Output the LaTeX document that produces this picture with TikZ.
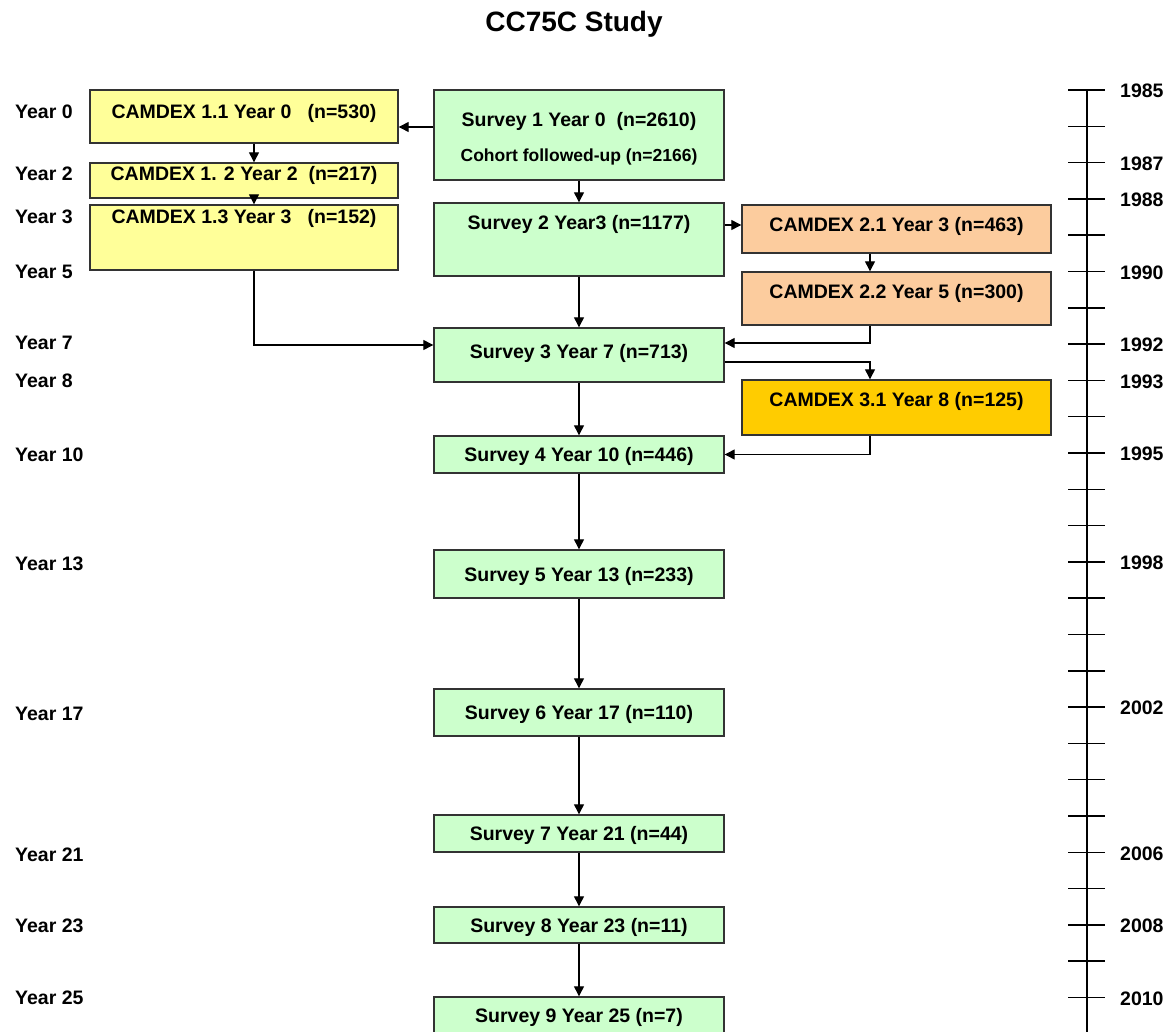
\documentclass[tikz,border=0pt]{standalone}
\usepackage{fontspec}
\setmainfont{Liberation Sans}
\usepackage{xcolor}
\usetikzlibrary{arrows.meta}
\definecolor{camyellow}{RGB}{255, 255, 153}
\definecolor{survgreen}{RGB}{204, 255, 204}
\definecolor{campeach}{RGB}{252, 204, 158}
\definecolor{camgold}{RGB}{255, 204, 0}
\definecolor{boxline}{RGB}{51, 51, 51}

\begin{document}
\begin{tikzpicture}[x=1pt, y=-1pt,
        box/.style={draw=boxline, line width=1.4pt, rectangle, inner sep=0pt, text height=14pt, text depth=0pt, font=\fontsize{19.5}{23}\selectfont\bfseries},
        survey/.style={box, fill=survgreen, minimum width=290pt},
        camone/.style={box, fill=camyellow, minimum width=308pt},
        camtwo/.style={box, fill=campeach, minimum width=309pt},
        lift/.style={text depth=#1pt},
        yearlbl/.style={anchor=west, inner sep=0pt, font=\fontsize{19.5}{23}\selectfont\bfseries},
        arr/.style={-{Triangle[length=10pt, width=10pt]}, line width=1.3pt}]
        \useasboundingbox[fill=white] (0,0) rectangle (1171,1032);
        \node (title) [font=\fontsize{28}{32}\selectfont\bfseries] at (574,24) {CC75C Study};

        % survey chain
        \node (s1) [survey, minimum height=90pt, align=center, text height=54pt] at (579,135) {Survey 1 Year 0\ \ (n=2610)\\[12pt] {\fontsize{17.5}{21}\selectfont Cohort followed-up (n=2166)}};
        \node (s2) [survey, below of=s1, node distance=104.5pt, minimum height=73pt, lift=33] {Survey 2 Year3 (n=1177)};
        \node (s3) [survey, below of=s2, node distance=115.5pt, minimum height=54pt, lift=6] {Survey 3 Year 7 (n=713)};
        \node (s4) [survey, below of=s3, node distance=99.5pt, minimum height=37pt] {Survey 4 Year 10 (n=446)};
        \node (s5) [survey, below of=s4, node distance=119.5pt, minimum height=48pt] {Survey 5 Year 13 (n=233)};
        \node (s6) [survey, below of=s5, node distance=138.5pt, minimum height=47pt] {Survey 6 Year 17 (n=110)};
        \node (s7) [survey, below of=s6, node distance=121pt, minimum height=37pt] {Survey 7 Year 21 (n=44)};
        \node (s8) [survey, below of=s7, node distance=91.5pt, minimum height=36pt] {Survey 8 Year 23 (n=11)};
        \node (s9) [survey, below of=s8, node distance=90.5pt, minimum height=37pt] {Survey 9 Year 25 (n=7)};

        % CAMDEX 1
        \node (c11) [camone, minimum height=53pt, lift=9] at (244,116.5) {CAMDEX 1.1 Year 0\ \ \ (n=530)};
        \node (c12) [camone, below of=c11, node distance=64pt, minimum height=35pt, lift=13] {CAMDEX 1. 2 Year 2\ \ (n=217)};
        \node (c13) [camone, below of=c12, node distance=57pt, minimum height=65pt, lift=41] {CAMDEX 1.3 Year 3\ \ \ (n=152)};

        % CAMDEX 2 and 3
        \node (c21) [camtwo, minimum height=48pt, lift=8] at (896.5,229) {CAMDEX 2.1 Year 3 (n=463)};
        \node (c22) [camtwo, below of=c21, node distance=69.5pt, minimum height=53pt, lift=13] {CAMDEX 2.2 Year 5 (n=300)};
        \node (c31) [camtwo, below of=c22, node distance=109pt, minimum height=55pt, lift=15, fill=camgold] {CAMDEX 3.1 Year 8 (n=125)};

        \draw[arr] ([yshift=8pt]s1.west) -- ([yshift=8pt]s1.west -| c11.east);
        \draw[arr] ([xshift=10pt]c11.south) -- ([xshift=10pt]c12.north);
        \draw[arr] ([xshift=10pt]c12.south) -- ([xshift=10pt]c13.north);
        \draw[arr] ([xshift=10pt]c13.south) |- ([yshift=10pt]s3.west);
        \draw[arr] ([yshift=4pt]c21.west -| s2.east) -- ([yshift=4pt]c21.west);
        \draw[arr] ([xshift=-26.5pt]c21.south) -- ([xshift=-26.5pt]c22.north);
        \draw[arr] ([xshift=-26.5pt]c22.south) |- ([yshift=12pt]s3.east);
        \draw[arr] ([yshift=-7pt]s3.east) -| ([xshift=-26.5pt]c31.north);
        \draw[arr] ([xshift=-26.5pt]c31.south) |- (s4.east);
        \foreach \a/\b in {s1/s2, s2/s3, s3/s4, s4/s5, s5/s6, s6/s7, s7/s8, s8/s9}
            \draw[arr] (\a.south) -- (\b.north);

        % study years
        \foreach \yy/\lbl in {112/0, 174/2, 217/3, 272/5, 343/7, 381/8, 455/10, 564/13, 714/17, 855/21, 926/23, 998/25}
            \node (yr\lbl) [yearlbl] at (15,\yy) {Year \lbl};

        % calendar axis
        \draw[line width=1.5pt] (1087,90) -- (1087,1040);
        \foreach \k in {0,...,26}
            \draw[line width=1.5pt] (1068,{90+36.3*\k}) -- (1105,{90+36.3*\k});
        \foreach \cal in {1985, 1987, 1988, 1990, 1992, 1993, 1995, 1998, 2002, 2006, 2008, 2010}
            \node (t\cal) [yearlbl] at (1120,{91+36.3*(\cal-1985)}) {\cal};
    \end{tikzpicture}
\end{document}
